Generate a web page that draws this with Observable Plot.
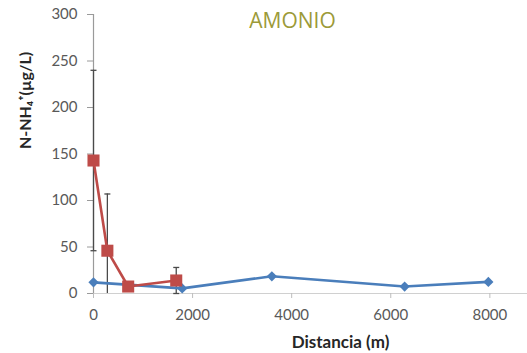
<!DOCTYPE html>
<html>
<head>
<meta charset="utf-8">
<script src="https://cdn.jsdelivr.net/npm/d3@7"></script>
<script src="https://cdn.jsdelivr.net/npm/@observablehq/plot@0.6"></script>
<style>
  html, body { margin: 0; padding: 0; background: #fff; }
  #chart svg { display: block; }
</style>
</head>
<body>
<div id="chart"></div>
<script>
// Amonio (N-NH4+) a lo largo de la distancia, dos series de muestreo
const title = "AMONIO";
const yLabel = "N-NH\u2084\u207A(\u00B5g/L)";
const xLabel = "Distancia (m)";

// Serie roja (con barras de error)
const distRed = [0, 280, 700, 1670];
const nh4Red = [143, 46, 7.5, 14];
const errRed = [97, 61, 0, 14];

// Serie azul
const distBlue = [0, 1790, 3600, 6280, 7970];
const nh4Blue = [12, 5.5, 18.5, 7.5, 12.5];

// Marcas de los ejes
const xTicks = [0, 2000, 4000, 6000, 8000];
const yTicks = [0, 50, 100, 150, 200, 250, 300];

const red = distRed.map((x, i) => ({x, y: nh4Red[i], err: errRed[i]}));
const blue = distBlue.map((x, i) => ({x, y: nh4Blue[i]}));

// Barras de error recortadas al eje (no se dibujan valores negativos)
const bars = red.filter(d => d.err > 0).map(d => ({x: d.x, lo: Math.max(0, d.y - d.err), hi: d.y + d.err}));
const caps = red.filter(d => d.err > 0).flatMap(d => [
  {x: d.x, y: d.y + d.err},
  ...(d.y - d.err >= 0 ? [{x: d.x, y: d.y - d.err}] : [])
]);

// Símbolo de tope horizontal para las barras de error
const capSymbol = {
  draw(ctx, size) {
    const w = Math.sqrt(size / Math.PI);
    ctx.moveTo(-w, 0);
    ctx.lineTo(w, 0);
  }
};

const tickFont = {fontFamily: "Lato, 'Open Sans', sans-serif", fontSize: 15};

const chart = Plot.plot({
  width: 527,
  height: 353,
  marginLeft: 93,
  marginRight: 0,
  marginTop: 14,
  marginBottom: 60,
  style: {fontFamily: "Lato, sans-serif", fontSize: "15px", color: "#595959", background: "#fff"},
  x: {domain: [0, 8760]},
  y: {domain: [0, 300]},
  marks: [
    Plot.ruleY([0], {stroke: "#d0d0d0", strokeWidth: 1.2}),
    Plot.ruleX([0], {stroke: "#9a9a9a", strokeWidth: 1.2}),
    Plot.axisY({ticks: yTicks, tickFormat: d => String(d), tickSize: 6, tickPadding: 10, stroke: "#9a9a9a", fill: "#595959", label: null, ...tickFont}),
    Plot.axisX({ticks: xTicks, tickFormat: d => String(d), tickSize: 5, tickPadding: 11, stroke: "#bdbdbd", fill: "#595959", label: null, ...tickFont}),
    Plot.ruleX(bars, {x: "x", y1: "lo", y2: "hi", stroke: "#4a4a4a", strokeWidth: 1.3}),
    Plot.dot(caps, {x: "x", y: "y", symbol: capSymbol, r: 3, stroke: "#4a4a4a", strokeWidth: 1.3, fill: "none"}),
    Plot.line(blue, {x: "x", y: "y", stroke: "#4a7ebb", strokeWidth: 2.6}),
    Plot.line(red, {x: "x", y: "y", stroke: "#be4b48", strokeWidth: 2.6}),
    Plot.dot(blue, {x: "x", y: "y", symbol: "diamond2", r: 4.6, fill: "#4a7ebb", stroke: "none"}),
    Plot.dot(red, {x: "x", y: "y", symbol: "square", r: 6.8, fill: "#be4b48", stroke: "none"}),
    Plot.text([title], {text: d => d, frameAnchor: "top", dx: -18, dy: -1, lineAnchor: "top",
      fontFamily: "'Open Sans', sans-serif", fontSize: 21, fill: "#9c9a38"}),
    Plot.text([yLabel], {text: d => d, frameAnchor: "top-left", dx: -68, dy: 86, rotate: -90,
      textAnchor: "middle", lineAnchor: "middle", fontFamily: "Lato, sans-serif", fontWeight: "bold", fontSize: 16, fill: "#262626"}),
    Plot.text([xLabel], {text: d => d, frameAnchor: "bottom", dx: 30, dy: 49, lineAnchor: "middle",
      fontFamily: "Lato, sans-serif", fontWeight: "bold", fontSize: 17, fill: "#262626"})
  ]
});

document.getElementById("chart").appendChild(chart);
</script>
</body>
</html>
